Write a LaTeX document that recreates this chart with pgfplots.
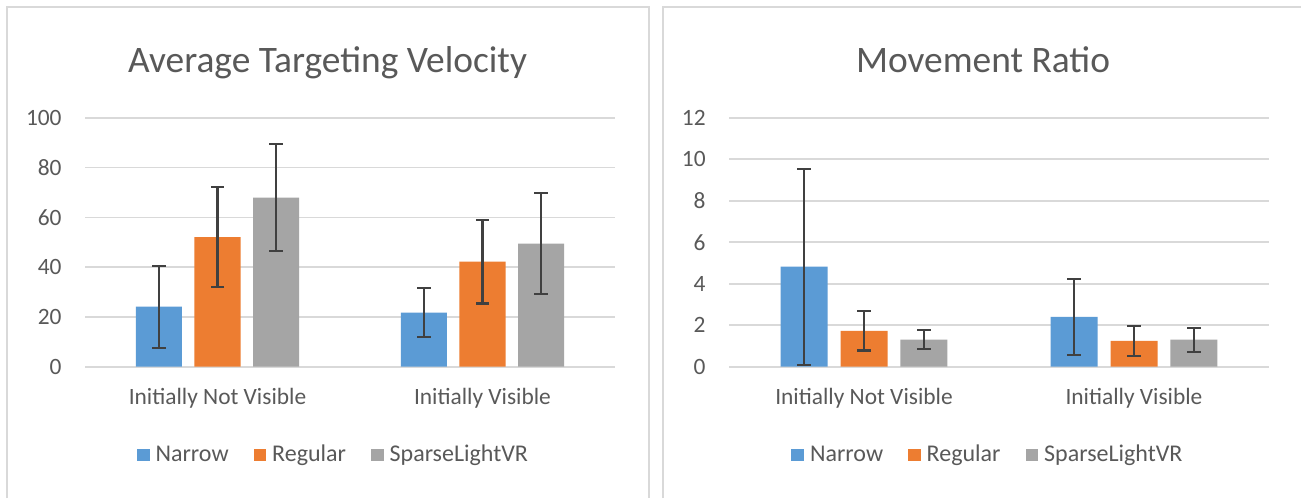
\documentclass[border=0pt]{standalone}
\usepackage{pgfplots}
\pgfplotsset{compat=1.18}
\usepackage{fontspec}
\setmainfont{Carlito}
\definecolor{cN}{HTML}{5B9BD5}
\definecolor{cR}{HTML}{ED7D31}
\definecolor{cS}{HTML}{A5A5A5}
\definecolor{txt}{HTML}{595959}
\definecolor{grd}{HTML}{D9D9D9}
\definecolor{errc}{HTML}{404040}
\definecolor{frm}{HTML}{D9D9D9}
\pgfplotsset{
  excelbar/.style={
    scale only axis,
    anchor=south west,
    height=124.5pt,
    ybar, bar width=0.174,
    xmin=-0.5, xmax=1.5, ymin=0,
    xtick={0,1},
    xticklabels={Initially Not Visible, Initially Visible},
    axis line style={draw=none},
    major tick length=0pt,
    ymajorgrids,
    major grid style={grd, line width=0.8pt},
    tick label style={font=\fontsize{11.7}{13}\selectfont, text=txt},
    /pgf/number format/assume math mode=true,
    yticklabel style={anchor=east, inner sep=0pt, xshift=-11.5pt},
    xticklabel style={anchor=base, inner sep=0pt, yshift=-19pt},
    clip=false,
    legend columns=3,
    legend style={draw=none, fill=none, font=\fontsize{12}{13}\selectfont, text=txt,
      anchor=center, inner sep=0pt,
      /tikz/every even column/.append style={column sep=10.5pt}},
    legend cell align=left,
    legend image code/.code={\fill[##1] (0pt,-3.2pt) rectangle (6.3pt,3.2pt); \path (7.3pt,0pt);},
    error bars/y dir=both, error bars/y explicit,
    error bars/error bar style={errc, line width=1.1pt},
    error bars/error mark options={rotate=90, errc, mark size=3.3pt, line width=1.1pt},
  },
}
\begin{document}
\begin{tikzpicture}
\useasboundingbox (0pt,0pt) rectangle (650.5pt,-249pt);
\fill[white] (0pt,0pt) rectangle (650.5pt,-249pt);
% panel frames
\draw[frm, line width=0.8pt] (3.5pt,-249pt) -- (3.5pt,-3.5pt) -- (324.5pt,-3.5pt) -- (324.5pt,-249pt);
\draw[frm, line width=0.8pt] (331.5pt,-249pt) -- (331.5pt,-3.5pt) -- (650.5pt,-3.5pt);
% titles
\node[anchor=base, text=txt, font=\fontsize{18.7}{21}\selectfont] at (163.75pt,-36pt) {Average Targeting Velocity};
\node[anchor=base, text=txt, font=\fontsize{18.7}{21}\selectfont] at (491.5pt,-36pt) {Movement Ratio};

\begin{axis}[excelbar, at={(42.5pt,-183.35pt)}, width=265pt,
  ymax=100, ytick={0,20,...,100},
  legend style={at={(0.4708,-0.3546)}}]
\addplot[fill=cN, draw=none, bar shift=-0.221] coordinates {(0,24.1) +- (0,16.5) (1,21.7) +- (0,9.9)};
\addplot[fill=cR, draw=none, bar shift=0] coordinates {(0,52.0) +- (0,20.1) (1,42.2) +- (0,16.8)};
\addplot[fill=cS, draw=none, bar shift=0.221] coordinates {(0,67.9) +- (0,21.4) (1,49.4) +- (0,20.3)};
\legend{Narrow, Regular, SparseLightVR}
\end{axis}

\begin{axis}[excelbar, at={(364.5pt,-183.35pt)}, width=270pt,
  ymax=12, ytick={0,2,...,12},
  legend style={at={(0.4815,-0.3546)}}]
\addplot[fill=cN, draw=none, bar shift=-0.222] coordinates {(0,4.82) +- (0,4.72) (1,2.40) +- (0,1.83)};
\addplot[fill=cR, draw=none, bar shift=0] coordinates {(0,1.73) +- (0,0.95) (1,1.24) +- (0,0.74)};
\addplot[fill=cS, draw=none, bar shift=0.222] coordinates {(0,1.30) +- (0,0.46) (1,1.30) +- (0,0.58)};
\legend{Narrow, Regular, SparseLightVR}
\end{axis}
\end{tikzpicture}
\end{document}
